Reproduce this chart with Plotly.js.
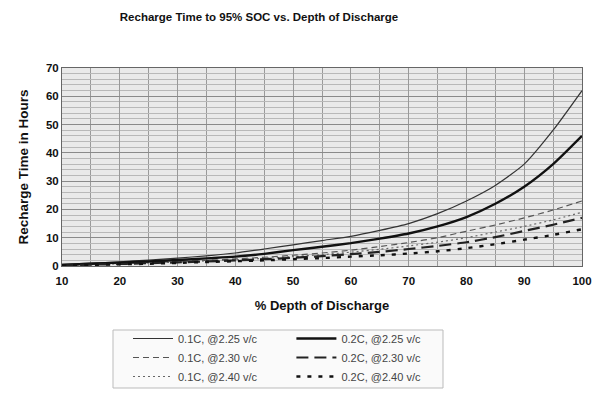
<!DOCTYPE html>
<html><head><meta charset="utf-8">
<script src="https://cdn.plot.ly/plotly-3.0.1.min.js"></script>
<style>html,body{margin:0;padding:0;background:#fff;}#chart{width:605px;height:397px;}</style>
</head><body><div id="chart"></div>
<script>
const dod = [10,15,20,25,30,35,40,45,50,55,60,65,70,75,80,85,90,95,100];
const c01_225 = [0.6,1.0,1.5,2.1,2.8,3.6,4.6,6.0,7.5,9.0,10.5,12.6,15.0,18.5,23.0,28.5,36.0,48.0,62.0];
const c02_225 = [0.4,0.8,1.2,1.6,2.1,2.7,3.3,4.3,5.6,6.8,8.1,9.7,11.5,14.0,17.3,22.0,28.0,36.0,46.0];
const c01_230 = [0.3,0.6,0.9,1.2,1.6,2.0,2.5,3.1,3.8,4.6,5.6,6.9,8.3,10.0,12.3,14.5,17.0,19.8,23.0];
const c02_230 = [0.2,0.5,0.7,1.0,1.3,1.6,2.0,2.4,2.9,3.5,4.2,5.0,6.0,7.1,8.4,10.2,12.4,14.6,17.0];
const c01_240 = [0.3,0.5,0.8,1.1,1.4,1.8,2.2,2.7,3.3,4.0,4.9,5.9,7.1,8.4,10.0,12.0,14.0,16.3,19.0];
const c02_240 = [0.2,0.4,0.6,0.8,1.1,1.4,1.7,2.0,2.4,2.8,3.3,3.8,4.4,5.2,6.3,7.7,9.3,11.0,13.0];
const names = ['0.1C, @2.25 v/c','0.1C, @2.30 v/c','0.1C, @2.40 v/c','0.2C, @2.25 v/c','0.2C, @2.30 v/c','0.2C, @2.40 v/c'];

const mk = (y, name, color, width, dash, legend) => ({
  x: dod, y: y, name: name, type: 'scatter', mode: 'lines', legend: legend,
  line: {color: color, width: width, dash: dash, shape: 'spline', smoothing: 0.6}
});
const data = [
  mk(c01_225, names[0], '#333', 1.2, 'solid', 'legend'),
  mk(c01_230, names[1], '#555', 1.2, '6px,4px', 'legend'),
  mk(c01_240, names[2], '#666', 1.2, '2px,3px', 'legend'),
  mk(c02_225, names[3], '#111', 2.4, 'solid', 'legend2'),
  mk(c02_230, names[4], '#222', 2.2, '12px,6px', 'legend2'),
  mk(c02_240, names[5], '#111', 2.4, '4px,7px', 'legend2')
];
// paper area: top 68, bottom 387 (height 319); plot area bottom at 266 via domain
const PB = 387, PH = 319;
const py = (px) => (PB - px) / PH;
const legFont = {family: 'Liberation Sans, Arial, sans-serif', size: 11, color: '#444'};
const layout = {
  width: 605, height: 397,
  margin: {l: 62, r: 23, t: 68, b: 397 - PB, autoexpand: false},
  paper_bgcolor: '#fff', plot_bgcolor: '#e9e9e9',
  font: {family: 'Liberation Sans, Arial, sans-serif', color: '#111'},
  title: {text: 'Recharge Time to 95% SOC vs. Depth of Discharge', xref: 'container', x: 259/605, xanchor: 'center',
          yref: 'container', y: 1 - 17/397, yanchor: 'middle',
          font: {size: 11.5, color: '#111', weight: 'bold', family: 'Liberation Sans, Arial, sans-serif'}},
  xaxis: {range: [10, 100], dtick: 10, tick0: 10, showline: true, linecolor: '#666', linewidth: 1, mirror: true,
          showgrid: true, gridcolor: '#999', gridwidth: 1,
          minor: {dtick: 5, showgrid: true, gridcolor: '#9a9a9a', gridwidth: 1},
          ticks: 'outside', ticklen: 4, tickcolor: 'rgba(0,0,0,0)', zeroline: false, fixedrange: true,
          tickfont: {size: 11.5, color: '#111', family: 'Liberation Sans, Arial, sans-serif', weight: 'bold'},
          title: {text: '% Depth of Discharge', standoff: 15, font: {size: 13, color: '#111', weight: 'bold'}}},
  yaxis: {range: [0, 70], dtick: 10, domain: [py(266), 1], showline: true, linecolor: '#666', linewidth: 1, mirror: true,
          showgrid: true, gridcolor: '#8a8a8a', gridwidth: 1,
          minor: {dtick: 2, showgrid: true, gridcolor: '#b8b8b8', gridwidth: 1},
          ticks: '', zeroline: false, fixedrange: true,
          tickfont: {size: 11.5, color: '#111', family: 'Liberation Sans, Arial, sans-serif', weight: 'bold'},
          title: {text: 'Recharge Time in Hours', standoff: 14, font: {size: 13.5, color: '#111', weight: 'bold'}}},
  legend: {x: (128-62)/520, y: py(324), yanchor: 'top', bgcolor: 'rgba(0,0,0,0)', borderwidth: 0,
           font: legFont, tracegroupgap: 0, itemwidth: 40},
  legend2: {x: (291.4-62)/520, y: py(324), yanchor: 'top', bgcolor: 'rgba(0,0,0,0)', borderwidth: 0,
           font: legFont, tracegroupgap: 0, itemwidth: 40},
  shapes: [{type: 'rect', xref: 'paper', yref: 'paper',
            x0: (113-62)/520, x1: (443-62)/520, y0: py(388), y1: py(330),
            line: {color: '#bbb', width: 1}, fillcolor: '#fafafa', layer: 'below'}],
  showlegend: true
};
Plotly.newPlot('chart', data, layout, {displayModeBar: false, staticPlot: true});
</script>
</body></html>
